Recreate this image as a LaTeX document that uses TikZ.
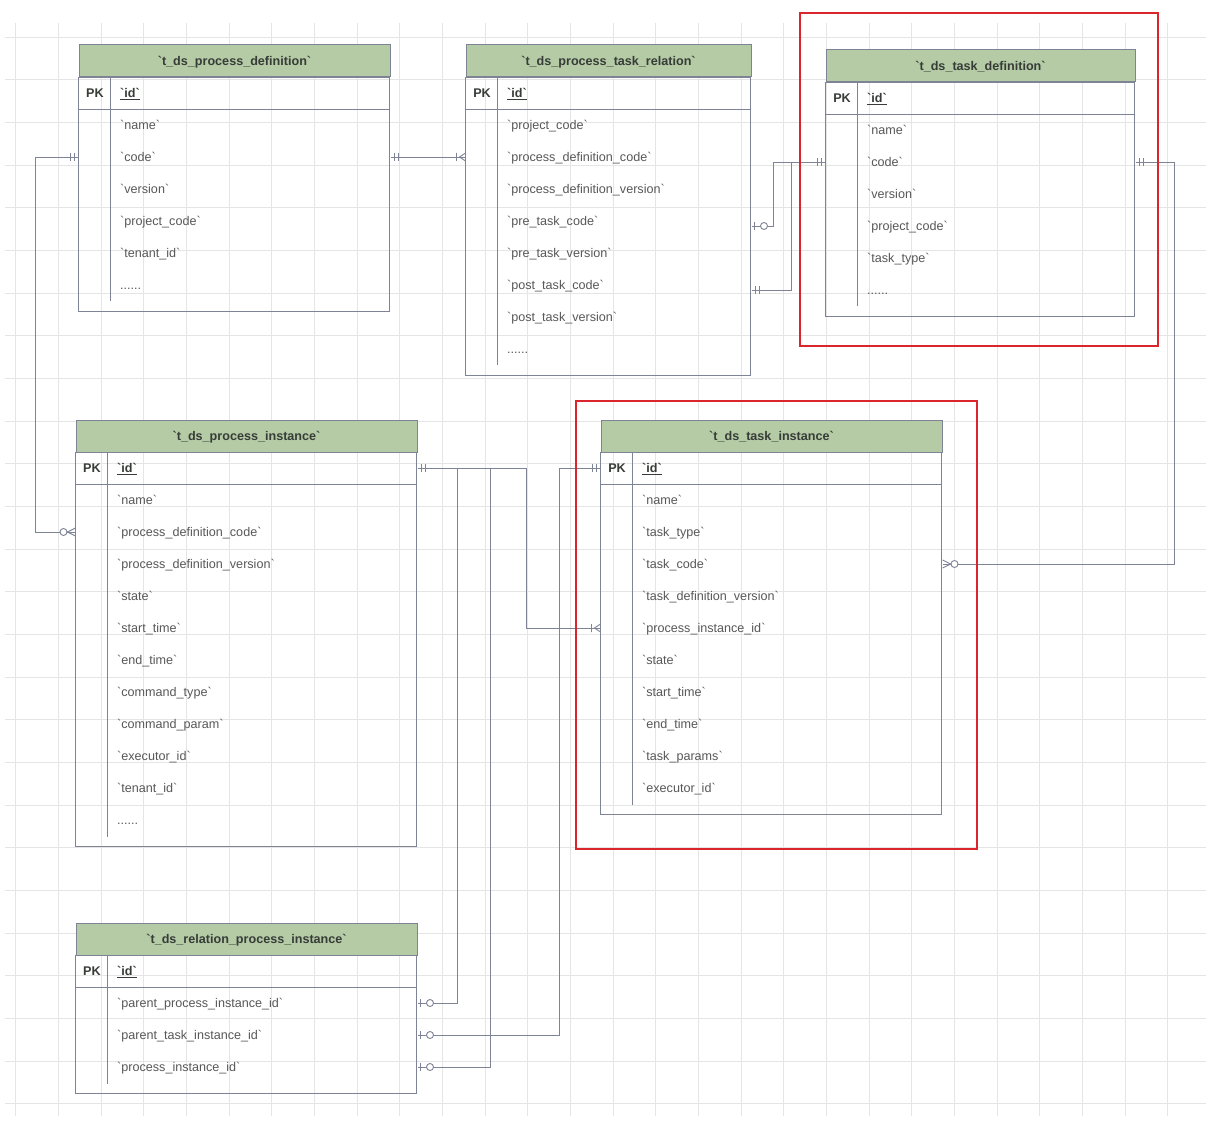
\documentclass[tikz,border=0pt]{standalone}
\usepackage{fontspec}
\setmainfont{Liberation Sans}[Ligatures=TeXOff]
\usepackage{tikz}
\usetikzlibrary{calc}
\definecolor{hdrgreen}{RGB}{180,203,166}
\definecolor{edgegrey}{RGB}{126,132,150}
\definecolor{gridgrey}{RGB}{229,229,229}
\definecolor{boxred}{RGB}{218,37,45}
\definecolor{txtgrey}{RGB}{88,88,88}
\definecolor{ttlgrey}{RGB}{55,60,55}

\begin{document}
\begin{tikzpicture}[x=1pt, y=-1pt,
    font=\fontsize{12.6}{15}\selectfont,
    gridline/.style={gridgrey, line width=0.8pt},
    tbl/.style={edgegrey, line width=1pt},
    link/.style={edgegrey, line width=0.9pt},
    hdr/.style={draw=edgegrey, line width=1pt, fill=hdrgreen, minimum height=32pt, inner sep=0pt,
      text height=11pt, text depth=2pt, font=\fontsize{12.6}{15}\selectfont\bfseries, text=ttlgrey},
    pk/.style={inner sep=0pt, text height=11pt, text depth=2pt, font=\fontsize{12.6}{15}\selectfont\bfseries, text=ttlgrey},
    fld/.style={anchor=west, inner sep=0pt, text height=11pt, text depth=2pt, text=txtgrey},
    keyfld/.style={fld, font=\fontsize{12.6}{15}\selectfont\bfseries, text=ttlgrey},
    redbox/.style={boxred, line width=2.4pt},
    onlyone/.pic={\draw[link] (4,-4) -- (4,4) (8,-4) -- (8,4);},
    onemany/.pic={\draw[link] (0,-4) -- (6,0) -- (0,4) (9,-4) -- (9,4);},
    zeromany/.pic={\draw[link] (0,-4) -- (8,0) -- (0,4); \draw[link, fill=white] (12,0) circle (3.5);},
    zeroone/.pic={\draw[link] (3,-4) -- (3,4); \draw[link, fill=white] (12.5,0) circle (3.5);},
  ]
  \fill[white] (0,0) rectangle (1231,1139);
  \useasboundingbox (0,0) rectangle (1231,1139);

  % background grid
  \foreach \k in {0,...,27} \draw[gridline] (15.7+42.67*\k,23) -- ++(0,1093);
  \foreach \k in {0,...,25} \draw[gridline] (5,37+42.67*\k) -- ++(1201,0);

  % t_ds_process_definition
  \node[hdr, minimum width=311] (pd) at (234.5,61) {`t\_ds\_process\_definition`};
  \draw[tbl] (pd.south west) rectangle ++(311,234);
  \draw[tbl] ($(pd.south west)+(0,32)$) -- ++(311,0);
  \draw[tbl] ($(pd.south west)+(32,0)$) -- ++(0,224);
  \node[pk] (pd-pk) at (95,93) {PK};
  \node[keyfld] (pd-id) at (120,93) {\underline{`id`}};
  \node[fld] (pd-name) at (120,125) {`name`};
  \node[fld] (pd-code) at (120,157) {`code`};
  \node[fld] (pd-version) at (120,189) {`version`};
  \node[fld] (pd-projcode) at (120,221) {`project\_code`};
  \node[fld] (pd-tenant) at (120,253) {`tenant\_id`};
  \node[fld] (pd-more) at (120,285) {......};

  % t_ds_process_task_relation
  \node[hdr, minimum width=285] (ptr) at (608.5,61) {`t\_ds\_process\_task\_relation`};
  \draw[tbl] (ptr.south west) rectangle ++(285,298);
  \draw[tbl] ($(ptr.south west)+(0,32)$) -- ++(285,0);
  \draw[tbl] ($(ptr.south west)+(32,0)$) -- ++(0,288);
  \node[pk] (ptr-pk) at (482,93) {PK};
  \node[keyfld] (ptr-id) at (507,93) {\underline{`id`}};
  \node[fld] (ptr-projcode) at (507,125) {`project\_code`};
  \node[fld] (ptr-pdcode) at (507,157) {`process\_definition\_code`};
  \node[fld] (ptr-pdversion) at (507,189) {`process\_definition\_version`};
  \node[fld] (ptr-pretask) at (507,221) {`pre\_task\_code`};
  \node[fld] (ptr-prever) at (507,253) {`pre\_task\_version`};
  \node[fld] (ptr-posttask) at (507,285) {`post\_task\_code`};
  \node[fld] (ptr-postver) at (507,317) {`post\_task\_version`};
  \node[fld] (ptr-more) at (507,349) {......};

  % t_ds_task_definition
  \node[hdr, minimum width=309] (td) at (980.5,66) {`t\_ds\_task\_definition`};
  \draw[tbl] (td.south west) rectangle ++(309,234);
  \draw[tbl] ($(td.south west)+(0,32)$) -- ++(309,0);
  \draw[tbl] ($(td.south west)+(32,0)$) -- ++(0,224);
  \node[pk] (td-pk) at (842,98) {PK};
  \node[keyfld] (td-id) at (867,98) {\underline{`id`}};
  \node[fld] (td-name) at (867,130) {`name`};
  \node[fld] (td-code) at (867,162) {`code`};
  \node[fld] (td-version) at (867,194) {`version`};
  \node[fld] (td-projcode) at (867,226) {`project\_code`};
  \node[fld] (td-type) at (867,258) {`task\_type`};
  \node[fld] (td-more) at (867,290) {......};

  % t_ds_process_instance
  \node[hdr, minimum width=341] (pi) at (246.5,436) {`t\_ds\_process\_instance`};
  \draw[tbl] (pi.south west) rectangle ++(341,394);
  \draw[tbl] ($(pi.south west)+(0,32)$) -- ++(341,0);
  \draw[tbl] ($(pi.south west)+(32,0)$) -- ++(0,384);
  \node[pk] (pi-pk) at (92,468) {PK};
  \node[keyfld] (pi-id) at (117,468) {\underline{`id`}};
  \node[fld] (pi-name) at (117,500) {`name`};
  \node[fld] (pi-pdcode) at (117,532) {`process\_definition\_code`};
  \node[fld] (pi-pdversion) at (117,564) {`process\_definition\_version`};
  \node[fld] (pi-state) at (117,596) {`state`};
  \node[fld] (pi-start) at (117,628) {`start\_time`};
  \node[fld] (pi-end) at (117,660) {`end\_time`};
  \node[fld] (pi-cmdtype) at (117,692) {`command\_type`};
  \node[fld] (pi-cmdparam) at (117,724) {`command\_param`};
  \node[fld] (pi-executor) at (117,756) {`executor\_id`};
  \node[fld] (pi-tenant) at (117,788) {`tenant\_id`};
  \node[fld] (pi-more) at (117,820) {......};

  % t_ds_task_instance
  \node[hdr, minimum width=341] (ti) at (771.5,436) {`t\_ds\_task\_instance`};
  \draw[tbl] (ti.south west) rectangle ++(341,362);
  \draw[tbl] ($(ti.south west)+(0,32)$) -- ++(341,0);
  \draw[tbl] ($(ti.south west)+(32,0)$) -- ++(0,352);
  \node[pk] (ti-pk) at (617,468) {PK};
  \node[keyfld] (ti-id) at (642,468) {\underline{`id`}};
  \node[fld] (ti-name) at (642,500) {`name`};
  \node[fld] (ti-type) at (642,532) {`task\_type`};
  \node[fld] (ti-taskcode) at (642,564) {`task\_code`};
  \node[fld] (ti-tdversion) at (642,596) {`task\_definition\_version`};
  \node[fld] (ti-piid) at (642,628) {`process\_instance\_id`};
  \node[fld] (ti-state) at (642,660) {`state`};
  \node[fld] (ti-start) at (642,692) {`start\_time`};
  \node[fld] (ti-end) at (642,724) {`end\_time`};
  \node[fld] (ti-params) at (642,756) {`task\_params`};
  \node[fld] (ti-executor) at (642,788) {`executor\_id`};

  % t_ds_relation_process_instance
  \node[hdr, minimum width=341] (rpi) at (246.5,939) {`t\_ds\_relation\_process\_instance`};
  \draw[tbl] (rpi.south west) rectangle ++(341,138);
  \draw[tbl] ($(rpi.south west)+(0,32)$) -- ++(341,0);
  \draw[tbl] ($(rpi.south west)+(32,0)$) -- ++(0,128);
  \node[pk] (rpi-pk) at (92,971) {PK};
  \node[keyfld] (rpi-id) at (117,971) {\underline{`id`}};
  \node[fld] (rpi-ppiid) at (117,1003) {`parent\_process\_instance\_id`};
  \node[fld] (rpi-ptiid) at (117,1035) {`parent\_task\_instance\_id`};
  \node[fld] (rpi-piid) at (117,1067) {`process\_instance\_id`};

  % relations
  \draw[link] (pd-code -| pd.west) -- ++(-43,0) |- (pi-pdcode -| pi.west);
  \draw[link] (pd-code -| pd.east) -- (ptr-pdcode -| ptr.west);
  \draw[link] ($(ptr-pretask -| ptr.east)+(0,5)$) -- ++(22,0) |- (td-code -| td.west);
  \draw[link] ($(ptr-posttask -| ptr.east)+(0,5)$) -- ++(40,0) |- (td-code -| td.west);
  \draw[link] (td-code -| td.east) -- ++(39,0) |- (ti-taskcode -| ti.east);
  \draw[link] (pi-id -| pi.east) -- ++(109,0) |- (ti-piid -| ti.west);
  \draw[link] (pi-id -| pi.east) -- ++(40,0) |- (rpi-ppiid -| rpi.east);
  \draw[link] (pi-id -| pi.east) -- ++(73,0) |- (rpi-piid -| rpi.east);
  \draw[link] (ti-id -| ti.west) -- ++(-41,0) |- (rpi-ptiid -| rpi.east);

  \pic[rotate=180] at (pd-code -| pd.west) {onlyone};
  \pic[rotate=180] at (pi-pdcode -| pi.west) {zeromany};
  \pic at (pd-code -| pd.east) {onlyone};
  \pic[rotate=180] at (ptr-pdcode -| ptr.west) {onemany};
  \pic at ($(ptr-pretask -| ptr.east)+(0,5)$) {zeroone};
  \pic at ($(ptr-posttask -| ptr.east)+(0,5)$) {onlyone};
  \pic[rotate=180] at (td-code -| td.west) {onlyone};
  \pic at (td-code -| td.east) {onlyone};
  \pic at (ti-taskcode -| ti.east) {zeromany};
  \pic at (pi-id -| pi.east) {onlyone};
  \pic[rotate=180] at (ti-piid -| ti.west) {onemany};
  \pic[rotate=180] at (ti-id -| ti.west) {onlyone};
  \pic at (rpi-ppiid -| rpi.east) {zeroone};
  \pic at (rpi-ptiid -| rpi.east) {zeroone};
  \pic at (rpi-piid -| rpi.east) {zeroone};

  % highlight frames
  \draw[redbox] (800,13) rectangle (1158,346);
  \draw[redbox] (576,401) rectangle (977,849);
\end{tikzpicture}
\end{document}
